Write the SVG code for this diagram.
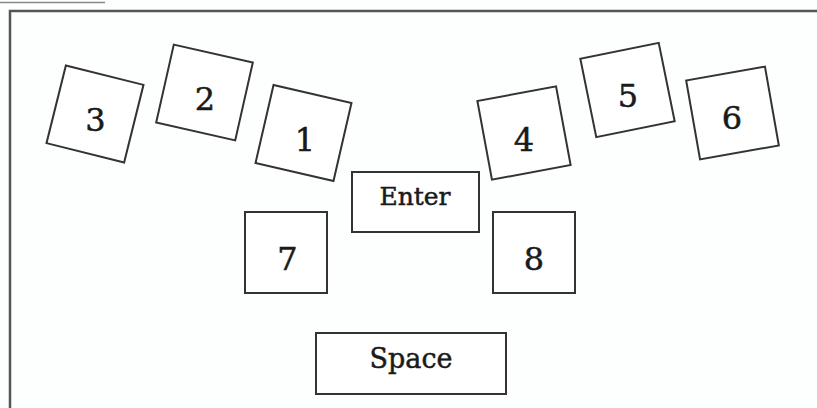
<svg xmlns="http://www.w3.org/2000/svg" width="817" height="408" viewBox="0 0 817 408">
<style>
.key{fill:#ffffff;stroke:#333333;stroke-width:2}
.t{font-family:"DejaVu Serif","Liberation Serif",serif;fill:#1a1a1a;stroke:#1a1a1a;stroke-width:0.5;text-anchor:middle}
.d{font-size:32px}
.w{font-size:25px}
</style>
<rect x="0" y="0" width="817" height="408" fill="#fdfefe"/>
<line x1="0" y1="2.5" x2="105" y2="2.5" stroke="#888888" stroke-width="1.5"/>
<rect x="10" y="11" width="830" height="420" fill="none" stroke="#555555" stroke-width="2.5"/>
<g id="connectors"></g>
<g id="key3"><rect class="key" x="-40" y="-40" width="80" height="80" transform="translate(95,114) rotate(14)"/><text class="t d" x="95.5" y="131">3</text></g>
<g id="key2"><rect class="key" x="-40.5" y="-40" width="81" height="80" transform="translate(204.5,92.5) rotate(12.7)"/><text class="t d" x="205" y="110">2</text></g>
<g id="key1"><rect class="key" x="-40" y="-40" width="80" height="80" transform="translate(303.5,133) rotate(13)"/><text class="t d" x="305" y="151">1</text></g>
<g id="key4"><rect class="key" x="-40" y="-40" width="80" height="80" transform="translate(524,133) rotate(-10.5)"/><text class="t d" x="524" y="151">4</text></g>
<g id="key5"><rect class="key" x="-40" y="-40" width="80" height="80" transform="translate(627.5,90) rotate(-11.5)"/><text class="t d" x="628" y="107">5</text></g>
<g id="key6"><rect class="key" x="-40" y="-40" width="80" height="80" transform="translate(732.5,113) rotate(-10)"/><text class="t d" x="732" y="129">6</text></g>
<g id="enter"><rect class="key" x="352" y="172" width="127" height="60"/><text class="t w" x="415" y="205">Enter</text></g>
<g id="key7"><rect class="key" x="245" y="212" width="82" height="81"/><text class="t d" x="287.5" y="270">7</text></g>
<g id="key8"><rect class="key" x="493" y="212" width="82" height="81"/><text class="t d" x="534" y="270">8</text></g>
<g id="space"><rect class="key" x="316" y="333" width="190" height="61"/><text class="t" style="font-size:27px" x="411" y="368">Space</text></g>
</svg>
